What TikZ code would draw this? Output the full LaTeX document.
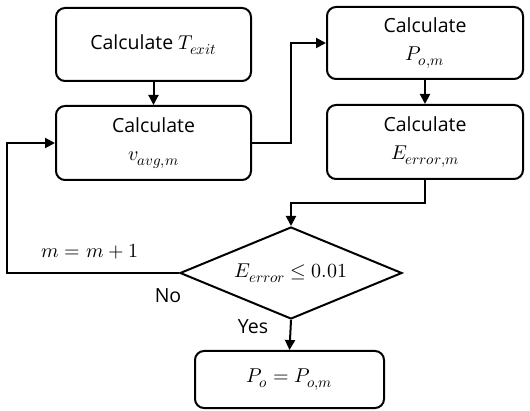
\documentclass[tikz,border=0pt]{standalone}
\usepackage{fontspec}
\usepackage{unicode-math}
\setmainfont{Open Sans}
\setmathfont{Latin Modern Math}
\DeclareMathSizes{19.5}{20}{15}{12}
\DeclareMathSizes{20}{20}{15}{12}
\usetikzlibrary{shapes.geometric,arrows.meta}
\tikzset{
  box/.style={draw, rounded corners=9pt, line width=2pt, align=center, inner sep=0pt,
    font=\fontsize{19.5}{30}\selectfont},
  dia/.style={draw, diamond, aspect=2.41, line width=2pt, inner sep=0pt, minimum width=222pt, minimum height=92pt,
    font=\fontsize{20}{24}\selectfont},
  lbl/.style={font=\fontsize{19.5}{24}\selectfont, inner sep=0pt},
  conn/.style={line width=2pt, -{Triangle[length=10pt,width=10pt]}}
}
\begin{document}
\begin{tikzpicture}[x=1pt,y=-1pt]
\useasboundingbox (0,0) rectangle (530,411);
\node[box, minimum width=195pt, minimum height=73pt] (b1) at (153.5,44.5) {Calculate $T_{exit}$};
\node[box, minimum width=195pt, minimum height=74pt] (b2) at (153.5,143) {Calculate\\[-2pt]$v_{avg,m}$};
\node[box, minimum width=196pt, minimum height=72pt] (b3) at (425,43) {Calculate\\[-2pt]$P_{o,m}$};
\node[box, minimum width=196pt, minimum height=74pt] (b4) at (425,142) {Calculate\\[-2pt]$E_{error,m}$};
\node[dia] (d) at (291,273) {$E_{error}\leq 0.01$};
\node[box, minimum width=189pt, minimum height=57pt] (b5) at (289.5,379.5) {$P_o=P_{o,m}$};
\node[lbl] (l1) at (90,252) {$m=m+1$};
\node[lbl] (l2) at (168,296) {No};
\node[lbl] (l3) at (253,327) {Yes};
\draw[conn] (b1.south) -- (b2.north);
\draw[conn] (b2.east) -- ++(39,0) |- (b3.west);
\draw[conn] (b3.south) -- (b4.north);
\draw[conn] (b4.south) -- ++(0,23) -| (d.north);
\draw[conn] (d.west) -- ++(-172,0) |- (b2.west);
\draw[conn] (d.south) -- (b5.north);
\end{tikzpicture}
\end{document}
